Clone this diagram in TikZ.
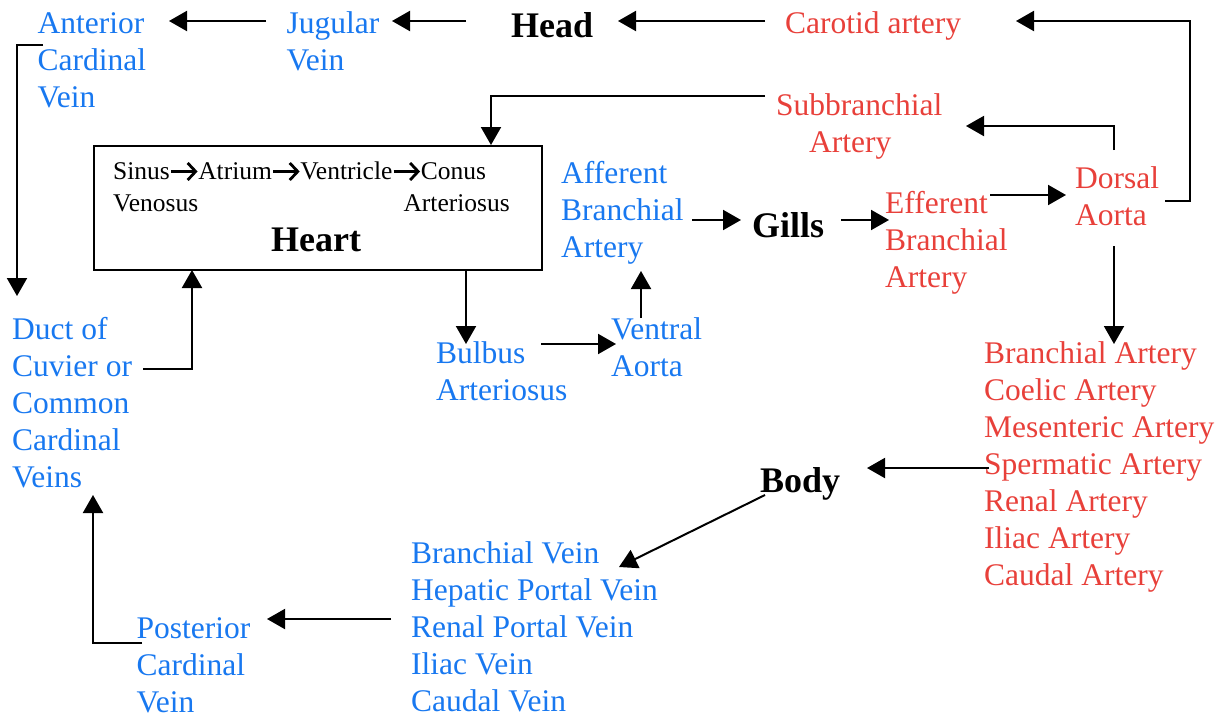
\documentclass[tikz,border=0pt]{standalone}
\usepackage{fontspec}
\setmainfont{Liberation Serif}
\usetikzlibrary{arrows.meta}
\definecolor{vblue}{RGB}{24,120,240}
\definecolor{ared}{RGB}{232,64,58}
\newcommand{\lblfont}{\fontsize{31.5}{37}\selectfont}
\newcommand{\boldfont}{\fontsize{36}{40}\selectfont\bfseries}
\newcommand{\smallfont}{\fontsize{25.5}{32}\selectfont}
\tikzset{
  lbl/.style={anchor=north west, inner sep=0pt, align=left, font=\lblfont},
  bluelbl/.style={lbl, text=vblue},
  redlbl/.style={lbl, text=ared},
  organ/.style={anchor=base west, inner sep=0pt, font=\boldfont},
  chamber/.style={anchor=base west, inner sep=0pt, font=\smallfont},
  arr/.style={line width=2pt, -{Triangle[length=18pt,width=20pt]}},
  harr/.style={line width=2.8pt, -{Straight Barb[length=8pt,width=17pt]}}
}
\begin{document}
\begin{tikzpicture}[x=1pt,y=-1pt]
\useasboundingbox (0,0) rectangle (1229,715);

% text nodes (top = baseline - 25.9)
\node[bluelbl] (ant) at (37.5,7.1) {\strut Anterior\\Cardinal\\Vein};
\node[bluelbl] (jug) at (286.5,7.1) {\strut Jugular\\Vein};
\node[organ] (head) at (511,37) {Head};
\node[anchor=base west, inner sep=0pt, font=\lblfont, text=ared] (car) at (785,33) {Carotid artery};
\node[redlbl] (sub) at (776,89.1) {\strut Subbranchial\\\hspace*{33pt}Artery};
\node[bluelbl] (aff) at (561,157.1) {\strut Afferent\\Branchial\\Artery};
\node[organ] (gills) at (752,237) {Gills};
\node[redlbl] (eff) at (885,187.1) {\strut Efferent\\Branchial\\Artery};
\node[redlbl] (dor) at (1075,162.1) {\strut Dorsal\\Aorta};
\node[bluelbl] (bul) at (436,337.1) {\strut Bulbus\\Arteriosus};
\node[bluelbl] (ven) at (611,313.1) {\strut Ventral\\Aorta};
\node[bluelbl] (duct) at (12,313.1) {\strut Duct of\\Cuvier or\\Common\\Cardinal\\Veins};
\node[redlbl] (arts) at (984,337.1) {\strut Branchial Artery\\Coelic Artery\\Mesenteric Artery\\Spermatic Artery\\Renal Artery\\Iliac Artery\\Caudal Artery};
\node[organ] (body) at (760,492) {Body};
\node[bluelbl] (veins) at (411,537.1) {\strut Branchial Vein\\Hepatic Portal Vein\\Renal Portal Vein\\Iliac Vein\\Caudal Vein};
\node[bluelbl] (post) at (136.5,612.1) {\strut Posterior\\Cardinal\\Vein};

% heart box
\node[draw, line width=2pt, anchor=north west, inner sep=0pt, minimum width=448pt, minimum height=124pt] (heart) at (93,145) {};
\node[chamber] (sinus) at (113,179) {Sinus};
\node[chamber] (atrium) at ([xshift=28pt]sinus.base east) {Atrium};
\node[chamber] (ventricle) at ([xshift=28pt]atrium.base east) {Ventricle};
\node[chamber] (conus) at ([xshift=28pt]ventricle.base east) {Conus};
\draw[harr] ([xshift=1pt,yshift=7.5pt]sinus.base east) -- ([xshift=-0.5pt,yshift=7.5pt]atrium.base west);
\draw[harr] ([xshift=1pt,yshift=7.5pt]atrium.base east) -- ([xshift=-0.5pt,yshift=7.5pt]ventricle.base west);
\draw[harr] ([xshift=1pt,yshift=7.5pt]ventricle.base east) -- ([xshift=-0.5pt,yshift=7.5pt]conus.base west);
\node[chamber] (venosus) at (113,211) {Venosus};
\node[anchor=base east, inner sep=0pt, font=\smallfont] (arteriosus) at (510,211) {Arteriosus};
\node[anchor=base, inner sep=0pt, font=\boldfont] (heartlbl) at (316,251) {Heart};

% connector end points
\coordinate (jugL) at (266,21);   \coordinate (antR) at (169,21);
\coordinate (headL) at (466,21);  \coordinate (jugR) at (392,21);
\coordinate (carL) at (765,21);   \coordinate (headR) at (618,21);
\coordinate (dorR) at (1165,201); \coordinate (dorCorner) at (1190,21); \coordinate (carR) at (1016,21);
\coordinate (dorT) at (1114,150); \coordinate (subR) at (966,126);
\coordinate (subL) at (765,96);   \coordinate (heartT) at (491,145);
\coordinate (effR) at (990,195);  \coordinate (dorL) at (1066,195);
\coordinate (gillsR) at (841,220); \coordinate (effL) at (889,220);
\coordinate (affR) at (692,220);  \coordinate (gillsL) at (741,220);
\coordinate (venT) at (641,318);  \coordinate (affB) at (641,271);
\coordinate (bulR) at (541,344);  \coordinate (venL) at (616,344);
\coordinate (heartB) at (466,270); \coordinate (bulT) at (466,344);
\coordinate (dorB) at (1114,246); \coordinate (artsT) at (1114,344);
\coordinate (antL) at (43,45);    \coordinate (ductT) at (17,296);
\coordinate (ductR) at (143,369); \coordinate (heartB2) at (192,270);
\coordinate (artsL) at (989,468); \coordinate (bodyR) at (867,468);
\coordinate (bodyB) at (765,495); \coordinate (veinsT) at (619,567);
\coordinate (veinsL) at (391,619); \coordinate (postR) at (267,619);
\coordinate (postL) at (142,643); \coordinate (ductB) at (93,495);

% connectors
\draw[arr] (jugL) -- (antR);
\draw[arr] (headL) -- (jugR);
\draw[arr] (carL) -- (headR);
\draw[arr] (dorR) -| (dorCorner) -- (carR);
\draw[arr] (dorT) |- (subR);
\draw[arr] (subL) -| (heartT);
\draw[arr] (effR) -- (dorL);
\draw[arr] (gillsR) -- (effL);
\draw[arr] (affR) -- (gillsL);
\draw[arr] (venT) -- (affB);
\draw[arr] (bulR) -- (venL);
\draw[arr] (heartB) -- (bulT);
\draw[arr] (dorB) -- (artsT);
\draw[arr] (antL) -| (ductT);
\draw[arr] (ductR) -| (heartB2);
\draw[arr] (artsL) -- (bodyR);
\draw[arr] (bodyB) -- (veinsT);
\draw[arr] (veinsL) -- (postR);
\draw[arr] (postL) -| (ductB);
\end{tikzpicture}
\end{document}
